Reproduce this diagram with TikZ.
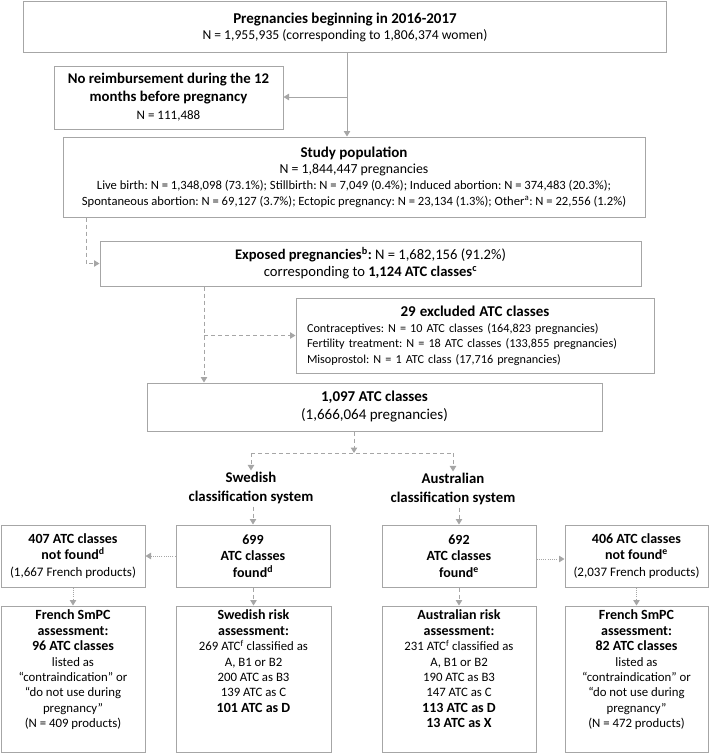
\documentclass[tikz,border=0pt]{standalone}
\usepackage{fontspec}
\setmainfont{Carlito}
\usetikzlibrary{arrows.meta,calc}
\definecolor{lg}{HTML}{A6A6A6}
\frenchspacing
\newcommand{\fsz}[2]{\fontsize{#1}{#2}\selectfont}
\newcommand{\bfs}[1]{{\bfseries\fontsize{14}{15}\selectfont #1}}
\begin{document}
\begin{tikzpicture}[x=1pt,y=-1pt,
  box/.style={draw=lg, line width=1pt, align=center, inner sep=0pt},
  lbl/.style={align=center, inner sep=0pt},
  tipd/.style={-{Triangle[width=6.5pt,length=5.5pt]}},
  con/.style={draw=lg, line width=1pt, tipd},
  dsh/.style={con, dash pattern=on 4pt off 3pt},
  dshl/.style={draw=lg, line width=1pt, dash pattern=on 4pt off 3pt},
  dtt/.style={con, dash pattern=on 1pt off 1.2pt},
]
\useasboundingbox (0,0) rectangle (709,753);

% ---------- top part ----------
\node[box, minimum width=643pt, minimum height=51pt, font=\fsz{13.6}{16}] (top) at (345,27)
  {{\bfseries\fontsize{15}{16}\selectfont Pregnancies beginning in 2016-2017}\\
   N = 1,955,935 (corresponding to 1,806,374 women)};

\node[box, minimum width=229pt, minimum height=63pt, font=\fsz{13}{18}] (noreimb) at (168.5,97.5)
  {{\bfseries\fontsize{14.8}{18}\selectfont No reimbursement during the 12}\\
   {\bfseries\fontsize{14.8}{18}\selectfont months before pregnancy}\\
   N = 111,488};

\node[box, minimum width=582pt, minimum height=80pt, font=\fsz{12.6}{16}] (study) at (354,177)
  {{\bfseries\fontsize{15}{16}\selectfont Study population}\\
   {\fontsize{13.8}{16}\selectfont N = 1,844,447 pregnancies}\\
   Live birth: N = 1,348,098 (73.1\%); Stillbirth: N = 7,049 (0.4\%); Induced abortion: N = 374,483 (20.3\%);\\
   Spontaneous abortion: N = 69,127 (3.7\%); Ectopic pregnancy: N = 23,134 (1.3\%); Other\textsuperscript{a}: N = 22,556 (1.2\%)};

\node[box, minimum width=541pt, minimum height=45pt, font=\fsz{14.6}{17}] (exposed) at (370.5,263.5)
  {\textbf{Exposed pregnancies\textsuperscript{b}:} N = 1,682,156 (91.2\%)\\
   corresponding to \textbf{1,124 ATC classes\textsuperscript{c}}};

\node[draw=lg, line width=1pt, align=left, text width=336pt, inner xsep=11pt, inner ysep=0pt,
      minimum height=75pt, font=\fsz{12.2}{15.3}] (excl) at (475,335.5)
  {\makebox[336pt][c]{\bfseries\fontsize{15}{15.3}\selectfont 29 excluded ATC classes}\\[1pt]
   Contraceptives: N = 10 ATC classes (164,823 pregnancies)\\
   Fertility treatment: N = 18 ATC classes (133,855 pregnancies)\\
   Misoprostol: N = 1 ATC class (17,716 pregnancies)};

\node[box, minimum width=455pt, minimum height=48pt, font=\fsz{15}{18}] (atc) at (374.5,407)
  {\textbf{1,097 ATC classes}\\(1,666,064 pregnancies)};

\node[lbl, font=\bfseries\fsz{14.8}{19}] (swe) at (251,487.5) {Swedish\\classification system};
\node[lbl, font=\bfseries\fsz{14.8}{19}] (aus) at (453,488.5) {Australian\\classification system};

% ---------- row 3 ----------
\tikzset{r3/.style={box, minimum height=62pt, font=\fsz{13}{16.5}}}
\node[r3, minimum width=144pt] (A) at (73,556)
  {\bfs{407 ATC classes}\\\bfs{not found\textsuperscript{d}}\\(1,667 French products)};
\node[r3, minimum width=154pt] (B) at (253,556)
  {\bfs{699}\\\bfs{ATC classes}\\\bfs{found\textsuperscript{d}}};
\node[r3, minimum width=154pt] (C) at (459,556)
  {\bfs{692}\\\bfs{ATC classes}\\\bfs{found\textsuperscript{e}}};
\node[r3, minimum width=143pt] (D) at (636.5,556)
  {\bfs{406 ATC classes}\\\bfs{not found\textsuperscript{e}}\\(2,037 French products)};

% ---------- row 4 ----------
\tikzset{r4/.style={box, minimum height=146pt, font=\fsz{12.8}{15.4}}}
\node[r4] (A4) at (73,679)
  {\parbox[c][146pt][t]{144pt}{\centering\fsz{12.8}{15.4}\vspace*{4pt}
   \bfs{French SmPC}\\\bfs{assessment:}\\\bfs{96 ATC classes}\\listed as\\“contraindication” or\\“do not use during\\pregnancy”\\(N = 409 products)}};
\node[r4] (B4) at (253.5,679)
  {\parbox[c][146pt][t]{155pt}{\centering\fsz{12.8}{15.4}\vspace*{4pt}
   \bfs{Swedish risk}\\\bfs{assessment:}\\269 ATC\textsuperscript{f} classified as\\A, B1 or B2\\200 ATC as B3\\139 ATC as C\\\bfs{101 ATC as D}}};
\node[r4] (C4) at (459,679)
  {\parbox[c][146pt][t]{154pt}{\centering\fsz{12.8}{15.4}\vspace*{4pt}
   \bfs{Australian risk}\\\bfs{assessment:}\\231 ATC\textsuperscript{f} classified as\\A, B1 or B2\\190 ATC as B3\\147 ATC as C\\\bfs{113 ATC as D}\\\bfs{13 ATC as X}}};
\node[r4] (D4) at (636.5,679)
  {\parbox[c][146pt][t]{143pt}{\centering\fsz{12.8}{15.4}\vspace*{4pt}
   \bfs{French SmPC}\\\bfs{assessment:}\\\bfs{82 ATC classes}\\listed as\\“contraindication” or\\“do not use during\\pregnancy”\\(N = 472 products)}};

% ---------- connectors ----------
\coordinate (j) at (347,97);
\draw[con] (top.south -| j) -- (study.north -| j);
\draw[con] (j) -- (noreimb.east |- j);

\coordinate (k) at (86,0);
\draw[dsh] (study.south -| k) |- (exposed.west);

\coordinate (m) at (204,0);
\draw[dsh] (exposed.south -| m) -- (atc.north -| m);
\draw[dsh] (m |- excl.west) -- (excl.west);

\coordinate (n) at (354,453);
\draw[dsh] (atc.south -| n) -- (n);
\draw[dshl] (swe.north |- n) -- (aus.north |- n);
\draw[dsh] (swe.north |- n) -- ($(swe.north)+(0,-1)$);
\draw[dsh] (aus.north |- n) -- ($(aus.north)+(0,-1)$);
\draw[dsh] ($(B.north |- swe.south)+(0,3)$) -- (B.north);
\draw[dsh] ($(C.north |- aus.south)+(0,3)$) -- (C.north);

\draw[dtt] (B.west) -- (A.east);
\draw[dtt] ([yshift=-3pt]C.east) -- ([yshift=-3pt]D.west);

\draw[dtt] (A.south) -- (A4.north);
\draw[dsh] (B.south -| B4.north) -- (B4.north);
\draw[dsh] (C.south) -- (C4.north);
\draw[dtt] (D.south) -- (D4.north);
\end{tikzpicture}
\end{document}
